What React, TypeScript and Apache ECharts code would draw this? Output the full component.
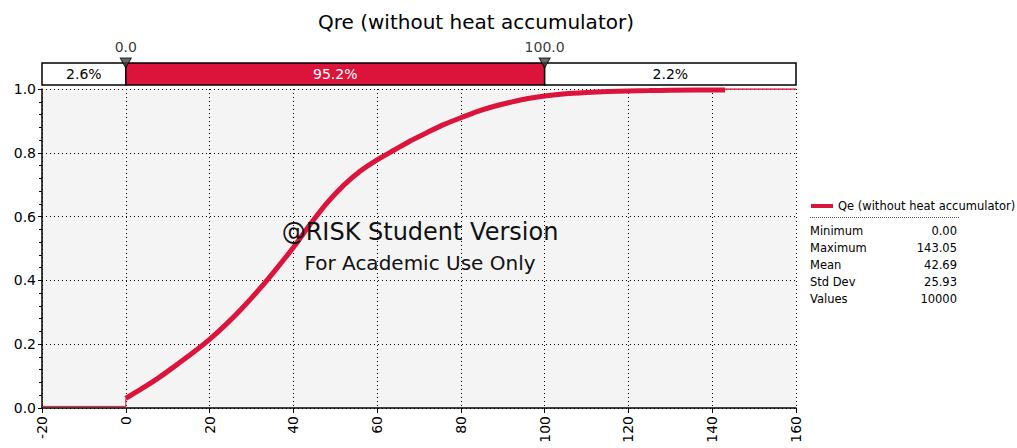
import { useEffect, useRef } from "react";
import * as echarts from "echarts";

// Cumulative distribution (x value, cumulative probability)
const cdfX = [0, 4, 8, 12, 16, 20, 24, 28, 32, 36, 40, 44, 48, 52, 56, 60, 64, 68, 72, 76, 80, 84, 88, 92, 96, 100, 105, 110, 115, 120, 125, 130, 143.05];
const cdfY = [0.03, 0.062, 0.096, 0.134, 0.173, 0.215, 0.263, 0.316, 0.374, 0.437, 0.503, 0.575, 0.642, 0.698, 0.743, 0.778, 0.808, 0.838, 0.864, 0.889, 0.91, 0.93, 0.946, 0.959, 0.97, 0.978, 0.985, 0.989, 0.992, 0.994, 0.995, 0.996, 0.997];
const leftTailX = [-20, 0, 0];
const leftTailY = [0.005, 0.005, 0.03];
const rightTailX = [125, 160];
const rightTailY = [1.0, 1.0];

// Top delimiter bar
const segStart = [-20, 0, 100];
const segEnd = [0, 100, 160];
const segLabels = ["2.6%", "95.2%", "2.2%"];
const markerValues = [0, 100];

// Axis ticks
const xMin = -20;
const xMax = 160;
const xStep = 20;
const yMin = 0;
const yMax = 1;
const yStep = 0.2;

// Texts
const seriesName = "Qe (without heat accumulator)";
const titleText = "Qre (without heat accumulator)";
const watermark1 = "@RISK Student Version";
const watermark2 = "For Academic Use Only";
const statNames = ["Minimum", "Maximum", "Mean", "Std Dev", "Values"];
const statValues = ["0.00", "143.05", "42.69", "25.93", "10000"];

const RED = "#dc143c";
const FONT = '"DejaVu Sans", Verdana, sans-serif';

export default function App() {
  const ref = useRef<HTMLDivElement>(null);
  useEffect(() => {
    if (!ref.current) return;
    const chart = echarts.init(ref.current, null, { renderer: "svg" });
    const statTexts: any[] = [];
    statNames.forEach((n, i) => {
      statTexts.push({
        type: "text",
        x: 810,
        y: 231 + i * 17,
        style: { text: n, font: `11.5px ${FONT}`, fill: "#000", textVerticalAlign: "middle" },
      });
      statTexts.push({
        type: "text",
        x: 957,
        y: 231 + i * 17,
        style: { text: statValues[i], font: `11.5px ${FONT}`, fill: "#000", textAlign: "right", textVerticalAlign: "middle" },
      });
    });
    chart.setOption({
      animation: false,
      backgroundColor: "#fff",
      title: {
        text: titleText,
        left: 471,
        textAlign: "center",
        top: 7,
        textStyle: { fontFamily: FONT, fontSize: 20, fontWeight: "normal", color: "#000" },
      },
      legend: {
        data: [seriesName],
        left: 806,
        top: 195,
        icon: "rect",
        itemWidth: 22,
        itemHeight: 4,
        itemGap: 6,
        textStyle: { fontFamily: FONT, fontSize: 11.5, color: "#000" },
      },
      grid: [
        { left: 42, right: 221, top: 89, bottom: 40, show: true, backgroundColor: "#f4f4f4", borderWidth: 0 },
        { left: 42, right: 221, top: 63, height: 22, show: false },
      ],
      xAxis: [
        {
          type: "value",
          gridIndex: 0,
          min: xMin,
          max: xMax,
          interval: xStep,
          axisLine: { show: true, onZero: false, lineStyle: { color: "#000", width: 1.5 } },
          axisTick: { show: true, length: 5, lineStyle: { color: "#000" } },
          axisLabel: { rotate: 90, fontFamily: FONT, fontSize: 14, color: "#000", margin: 8 },
          splitLine: { show: true, lineStyle: { color: "#000", type: [1, 3], width: 1 } },
        },
        { type: "value", gridIndex: 1, min: xMin, max: xMax, show: false },
      ],
      yAxis: [
        {
          type: "value",
          gridIndex: 0,
          min: yMin,
          max: yMax,
          interval: yStep,
          axisLine: { show: true, onZero: false, lineStyle: { color: "#000", width: 1.5 } },
          axisTick: { show: true, length: 4, lineStyle: { color: "#000" } },
          minorTick: { show: true, splitNumber: 5, length: 3, lineStyle: { color: "#000" } },
          axisLabel: { fontFamily: FONT, fontSize: 14, color: "#000", margin: 6, formatter: (v: number) => v.toFixed(1) },
          splitLine: { show: true, lineStyle: { color: "#000", type: [1, 3], width: 1 } },
        },
        { type: "value", gridIndex: 1, min: 0, max: 1, show: false },
      ],
      series: [
        {
          name: seriesName,
          type: "line",
          xAxisIndex: 0,
          yAxisIndex: 0,
          data: cdfX.map((x, i) => [x, cdfY[i]]),
          showSymbol: false,
          smooth: 0.2,
          lineStyle: { color: RED, width: 5 },
          itemStyle: { color: RED },
          z: 5,
        },
        {
          name: "leftTail",
          type: "line",
          xAxisIndex: 0,
          yAxisIndex: 0,
          data: leftTailX.map((x, i) => [x, leftTailY[i]]),
          showSymbol: false,
          lineStyle: { color: RED, width: 1 },
          z: 4,
        },
        {
          name: "rightTail",
          type: "line",
          xAxisIndex: 0,
          yAxisIndex: 0,
          data: rightTailX.map((x, i) => [x, rightTailY[i]]),
          showSymbol: false,
          lineStyle: { color: RED, width: 1.5 },
          z: 4,
        },
        {
          name: "bar",
          type: "custom",
          xAxisIndex: 1,
          yAxisIndex: 1,
          data: segStart.map((s, i) => [s, segEnd[i]]),
          encode: { x: [0, 1] },
          clip: false,
          renderItem: (params: any, api: any) => {
            const i = params.dataIndex;
            const p0 = api.coord([api.value(0), 0]);
            const p1 = api.coord([api.value(1), 1]);
            return {
              type: "rect",
              shape: { x: p0[0], y: p1[1], width: p1[0] - p0[0], height: p0[1] - p1[1] },
              style: { fill: i === 1 ? RED : "#fff", stroke: "#000", lineWidth: 1.5 },
              textContent: {
                style: { text: segLabels[i], fill: i === 1 ? "#fff" : "#000", font: `14px ${FONT}` },
              },
              textConfig: { position: "inside" },
            };
          },
          z: 3,
        },
        {
          name: "markers",
          type: "scatter",
          xAxisIndex: 1,
          yAxisIndex: 1,
          clip: false,
          data: markerValues.map((v) => [v, 1]),
          symbol: "triangle",
          symbolRotate: 180,
          symbolSize: [11, 10],
          itemStyle: { color: "#444", borderColor: "#000", borderWidth: 1 },
          label: {
            show: true,
            position: "top",
            distance: 4,
            fontFamily: FONT,
            fontSize: 14,
            color: "#000",
            formatter: (p: any) => p.value[0].toFixed(1),
          },
          z: 6,
        },
      ],
      graphic: [
        {
          type: "text",
          x: 420,
          y: 232,
          style: { text: watermark1, font: `24px ${FONT}`, fill: "#111", textAlign: "center", textVerticalAlign: "middle" },
          z: 10,
        },
        {
          type: "text",
          x: 420,
          y: 263,
          style: { text: watermark2, font: `20px ${FONT}`, fill: "#111", textAlign: "center", textVerticalAlign: "middle" },
          z: 10,
        },
        {
          type: "line",
          shape: { x1: 810, y1: 217.5, x2: 960, y2: 217.5 },
          style: { stroke: "#555", lineWidth: 1, lineDash: [1, 1] },
        },
        ...statTexts,
      ],
    });
    return () => chart.dispose();
  }, []);
  return <div ref={ref} style={{ position: "fixed", left: 0, top: 0, width: 1017, height: 448 }} />;
}
